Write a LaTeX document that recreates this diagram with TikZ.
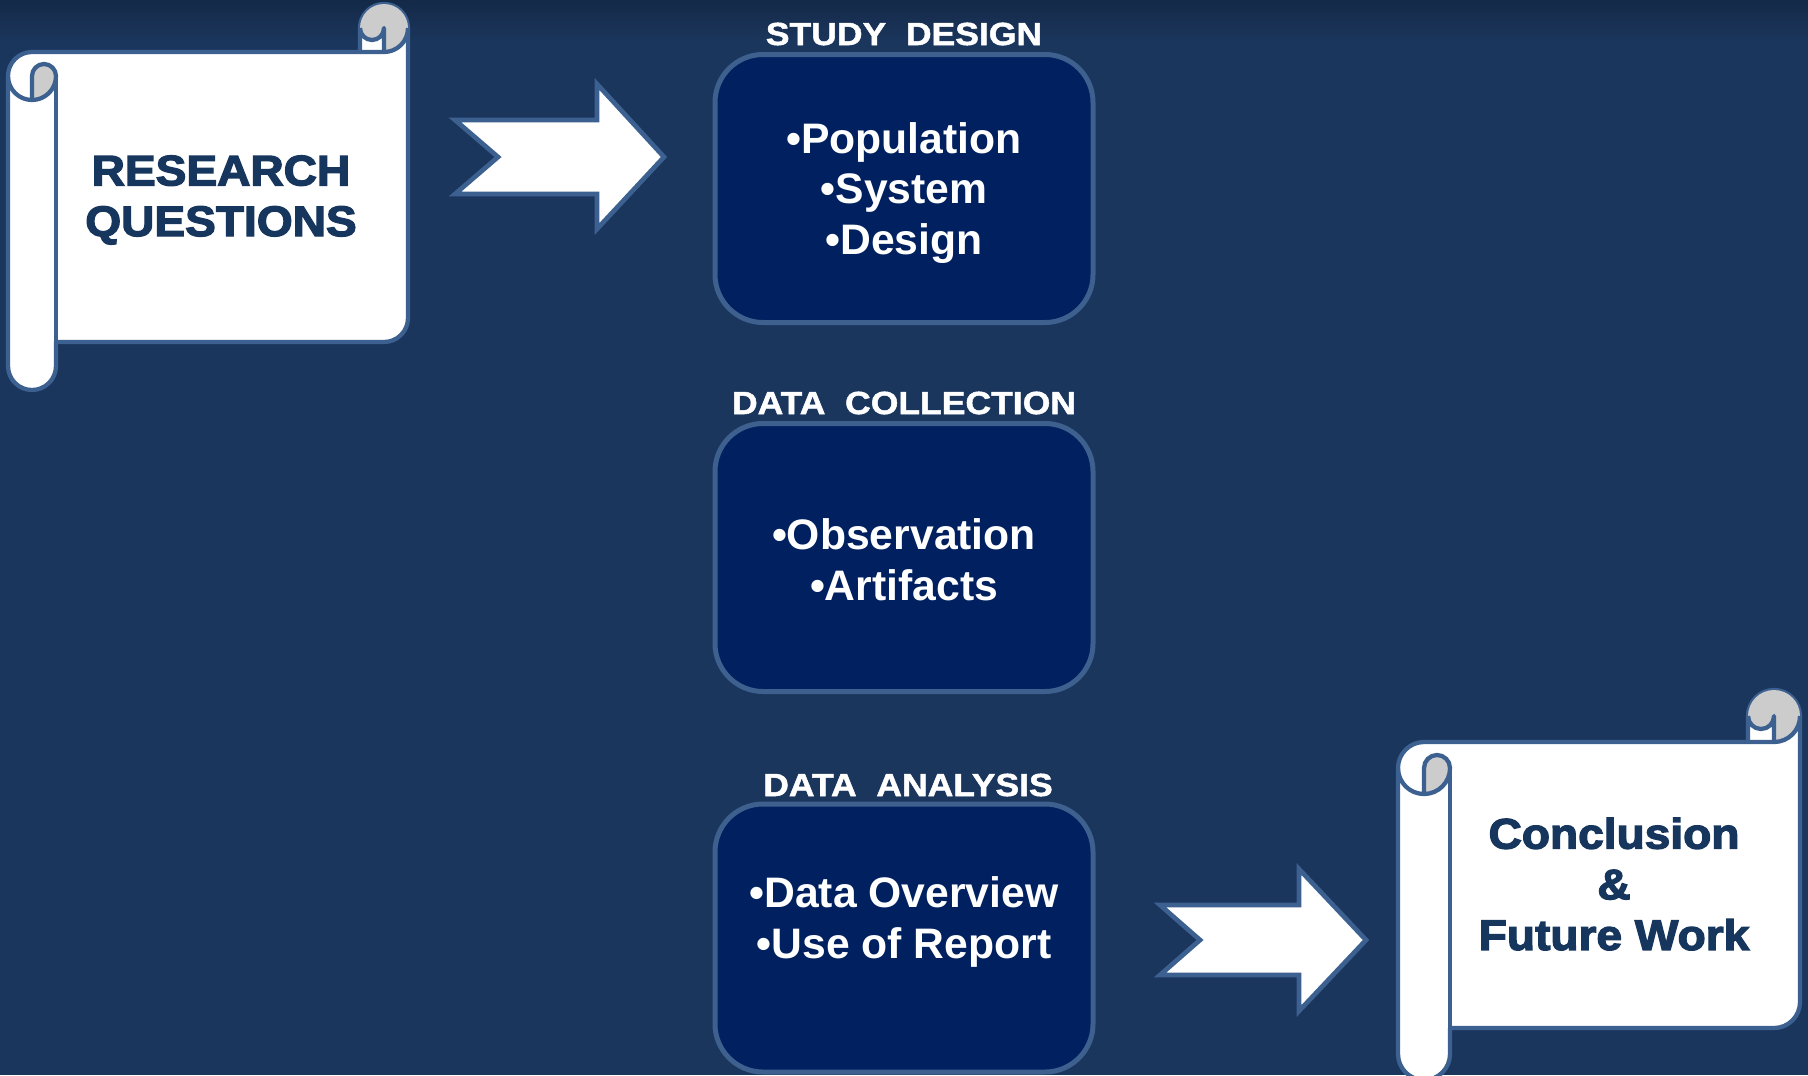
\documentclass[tikz,border=0pt]{standalone}
\usepackage{fontspec}
\setmainfont{Liberation Sans}
\newfontfamily\scrollfont[BoldFeatures={FakeStretch=1.08,FakeBold=3}]{Liberation Sans}
\newfontfamily\titlefont[BoldFeatures={FakeStretch=1.11,FakeBold=1.5}]{Liberation Sans}

\definecolor{bgnavy}{RGB}{27,54,93}
\definecolor{bgtop}{RGB}{20,41,72}
\definecolor{boxfill}{RGB}{0,32,96}
\definecolor{boxline}{RGB}{62,96,142}
\definecolor{scrollline}{RGB}{60,96,144}
\definecolor{curlgray}{RGB}{204,204,204}
\definecolor{scrolltxt}{RGB}{23,54,93}

\begin{document}
\begin{tikzpicture}[x=0.75pt,y=0.75pt,yscale=-1,xscale=1,
  stagebox/.style={draw=boxline,line width=3.75pt,fill=boxfill,rounded corners=36pt,minimum width=283.5pt,minimum height=201pt,inner sep=0pt},
  stagetext/.style={text=white,align=center,inner sep=0pt,font=\bfseries\fontsize{32}{38}\selectfont},
  stagetitle/.style={text=white,inner sep=0pt,font=\titlefont\bfseries\fontsize{24}{28}\selectfont},
  scrolltext/.style={text=scrolltxt,align=center,inner sep=0pt,font=\scrollfont\bfseries\fontsize{32}{38}\selectfont},
  scrollbody/.style={fill=white,draw=scrollline,line width=3.2pt,line join=round},
  scrollcurl/.style={fill=curlgray},
  scrolledge/.style={draw=scrollline,line width=3.2pt,line join=round},
  blockarrow/.style={fill=white,draw=scrollline,line width=3.5pt}]
\useasboundingbox (0,0) rectangle (1808,1075);
%Background
\fill[bgnavy] (0,0) rectangle (1808,1075);
\shade[top color=bgtop,bottom color=bgnavy] (0,0) rectangle (1808,42);

%Shape: Horizontal Scroll [research questions]
\path[scrollbody] (8,76) arc[start angle=180,end angle=270,radius=24] -- (360,52) -- (360,28) arc[start angle=180,end angle=360,radius=24] -- (408,318) arc[start angle=0,end angle=90,radius=24] -- (56,342) -- (56,366) arc[start angle=0,end angle=180,radius=24] -- cycle ;
\fill[scrollcurl] (32,100) arc[start angle=90,end angle=0,radius=24] arc[start angle=0,end angle=-180,radius=12] -- cycle ;
\fill[scrollcurl] (384,52) arc[start angle=90,end angle=-180,radius=24] arc[start angle=180,end angle=0,radius=12] -- cycle ;
\path[scrolledge] (360,52) -- (384,52) arc[start angle=90,end angle=0,radius=24] ;
\path[scrolledge] (384,52) -- (384,28) arc[start angle=0,end angle=180,radius=12] ;
\path[scrolledge] (32,100) -- (32,76) arc[start angle=180,end angle=360,radius=12] arc[start angle=0,end angle=180,radius=24] ;
\path[scrolledge] (56,76) -- (56,342) ;

%Shape: Horizontal Scroll [conclusion]
\path[scrollbody] (1398,768) arc[start angle=180,end angle=270,radius=26] -- (1748,742) -- (1748,716) arc[start angle=180,end angle=360,radius=26] -- (1800,1002) arc[start angle=0,end angle=90,radius=26] -- (1450,1028) -- (1450,1054) arc[start angle=0,end angle=180,radius=26] -- cycle ;
\fill[scrollcurl] (1424,794) arc[start angle=90,end angle=0,radius=26] arc[start angle=0,end angle=-180,radius=13] -- cycle ;
\fill[scrollcurl] (1774,742) arc[start angle=90,end angle=-180,radius=26] arc[start angle=180,end angle=0,radius=13] -- cycle ;
\path[scrolledge] (1748,742) -- (1774,742) arc[start angle=90,end angle=0,radius=26] ;
\path[scrolledge] (1774,742) -- (1774,716) arc[start angle=0,end angle=180,radius=13] ;
\path[scrolledge] (1424,794) -- (1424,768) arc[start angle=180,end angle=360,radius=13] arc[start angle=0,end angle=180,radius=26] ;
\path[scrolledge] (1450,768) -- (1450,1028) ;

%Shape: Notched Right Arrow [to study design]
\path[blockarrow] (455,120) -- (498,157) -- (455,194) -- (597,194) -- (597,229) -- (664,157) -- (597,84) -- (597,120) -- cycle ;
%Shape: Notched Right Arrow [to conclusion]
\path[blockarrow] (1160,905) -- (1200,940) -- (1160,975) -- (1299,975) -- (1299,1011) -- (1366,940) -- (1299,869) -- (1299,905) -- cycle ;

%Stage boxes
\node[stagebox] (design) at (904,188.5) {};
\node[stagebox] (collect) at (904,557.5) {};
\node[stagebox] (analysis) at (904,938) {};

% Text Node
\node[stagetitle] (design-title) at (904,34) {STUDY\ \ DESIGN};
\node[stagetitle] (collect-title) at (904,403) {DATA\ \ COLLECTION};
\node[stagetitle] (analysis-title) at (908,785) {DATA\ \ ANALYSIS};
% Text Node
\node[stagetext] (design-txt) at (904,193) {•Population\\•System\\•Design};
\node[stagetext] (collect-txt) at (904,560) {•Observation\\•Artifacts};
\node[stagetext] (analysis-txt) at (904,922) {•Data Overview\\•Use of Report};
% Text Node
\node[scrolltext] (rq) at (221,200) {RESEARCH\\QUESTIONS};
\node[scrolltext] (concl) at (1614,884) {Conclusion\\\&\\Future Work};

\end{tikzpicture}
\end{document}
